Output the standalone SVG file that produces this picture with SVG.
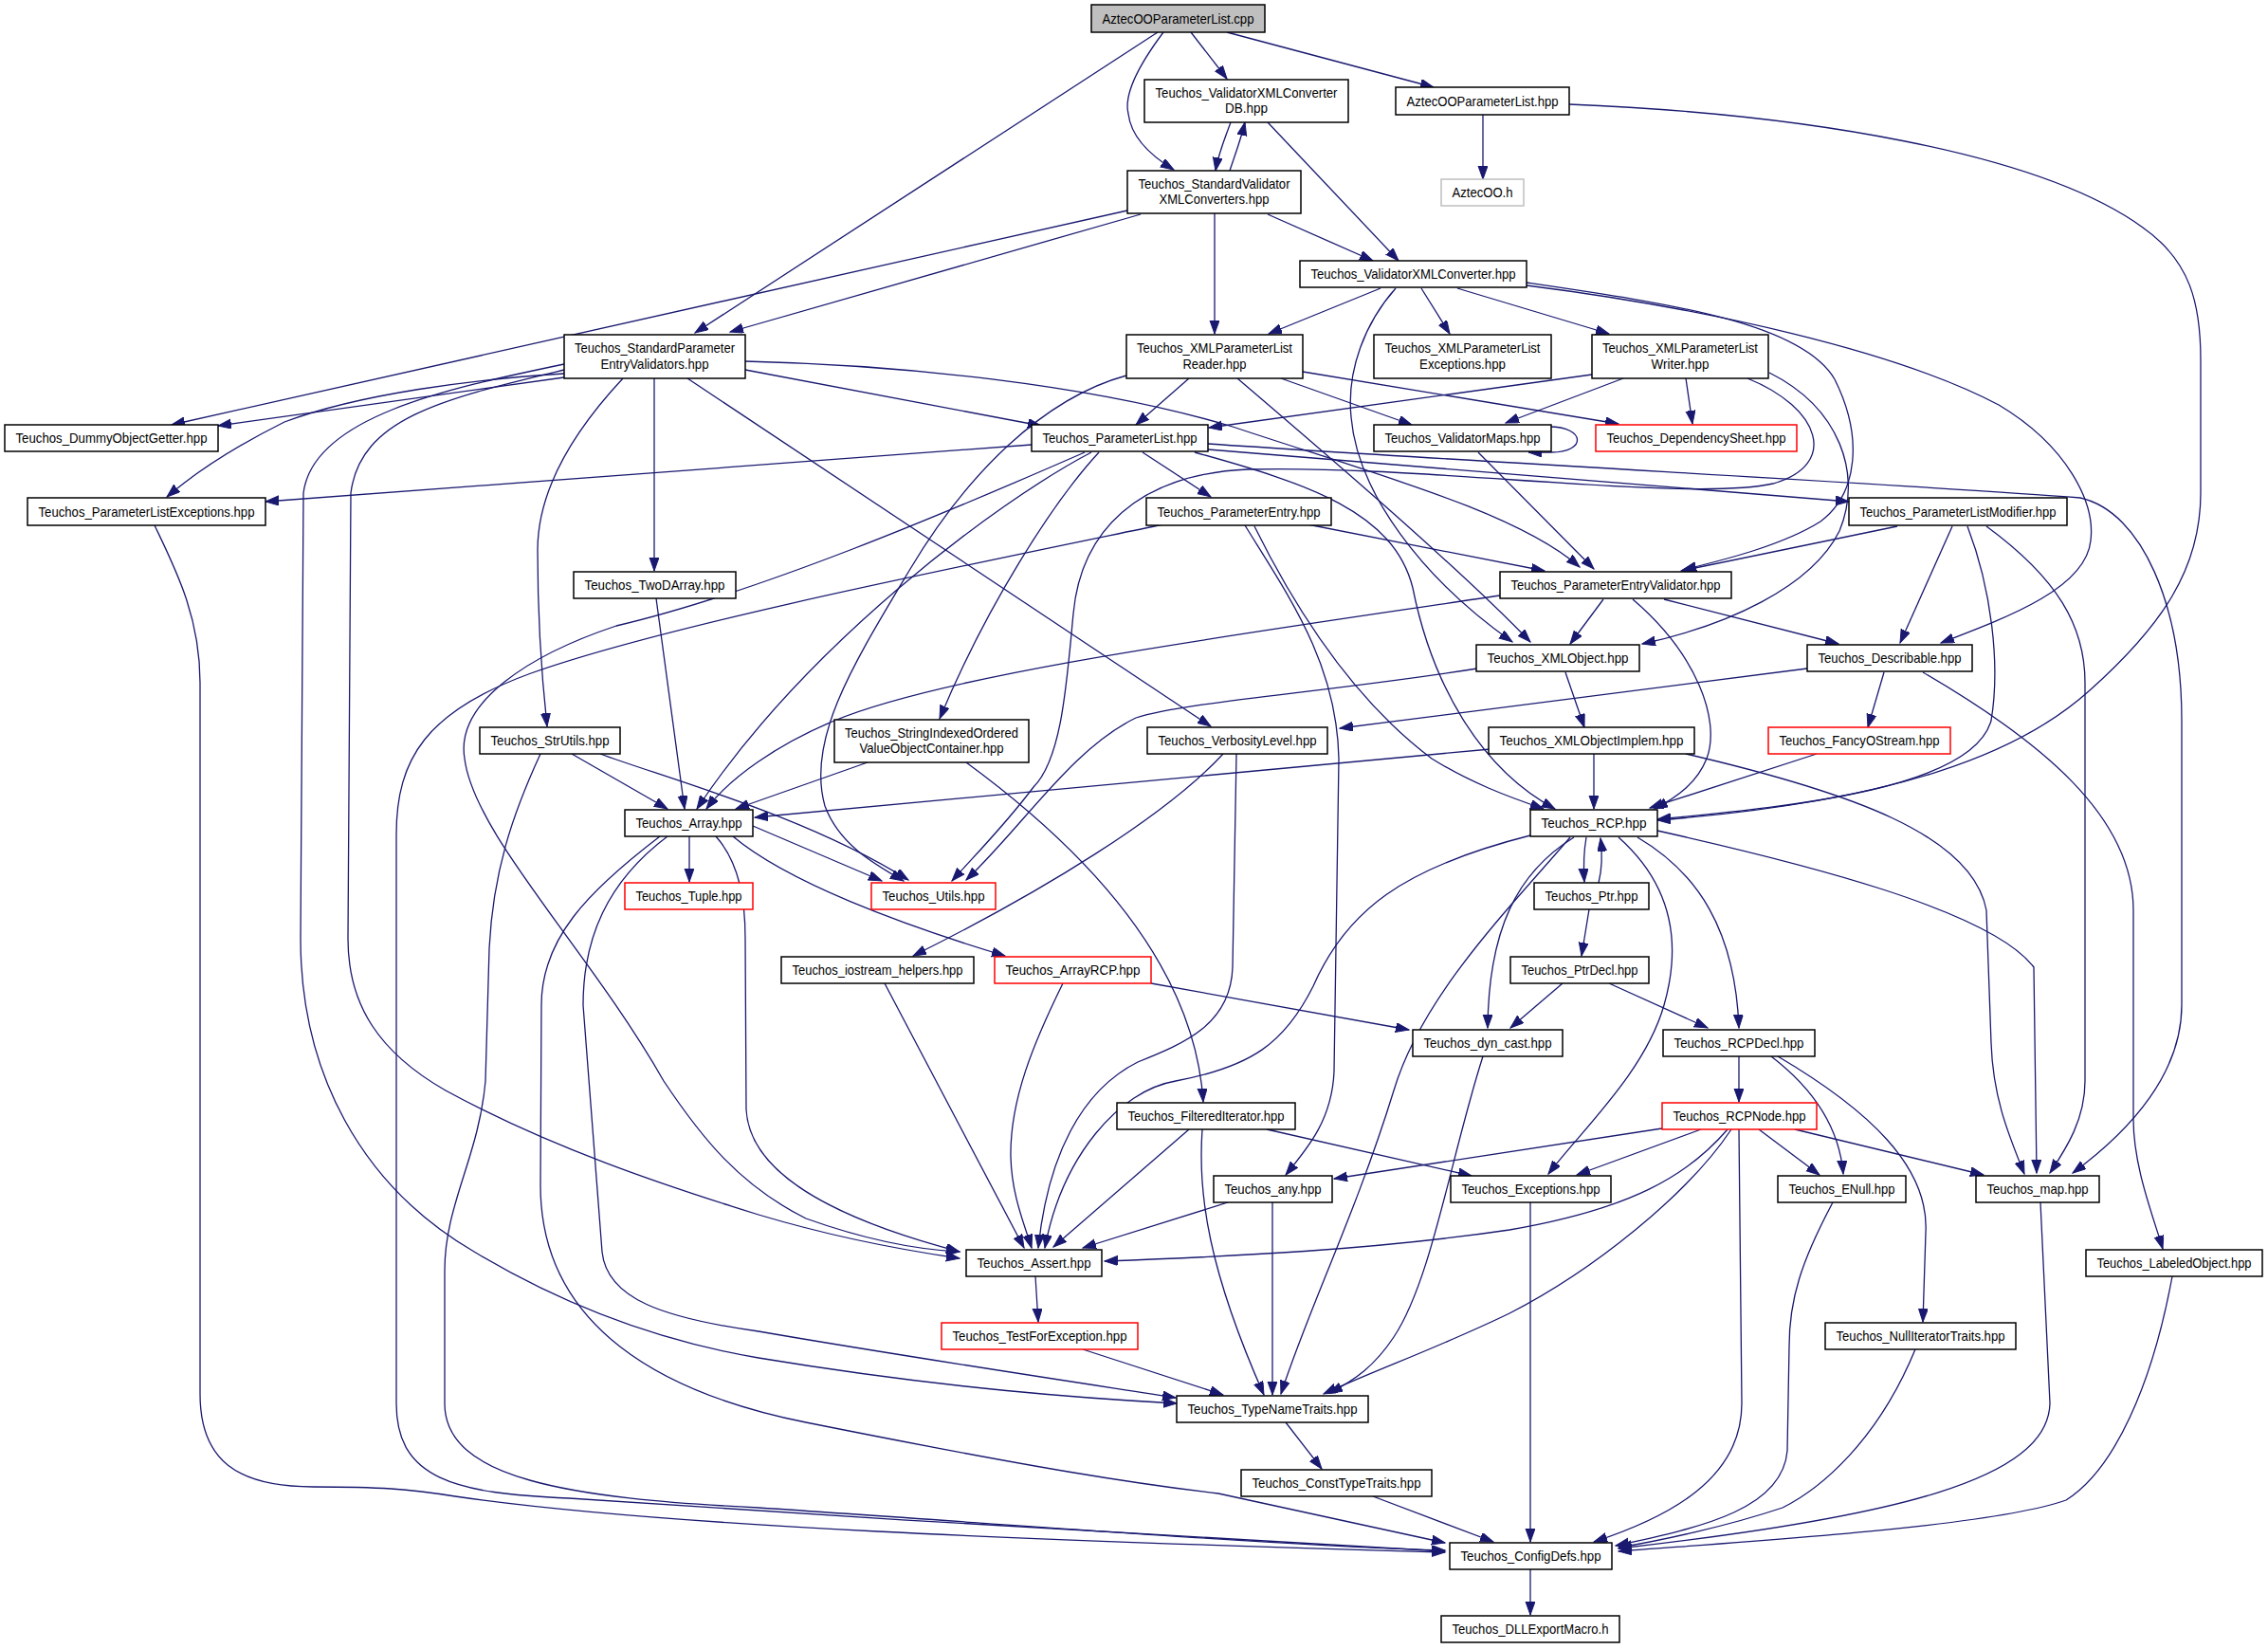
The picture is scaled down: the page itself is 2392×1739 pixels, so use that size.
<svg xmlns="http://www.w3.org/2000/svg" width="2392" height="1739" viewBox="0 0 2392 1739">
<style>
.n rect{fill:#fff;stroke:#000;stroke-width:1.5}
.n.g rect{fill:#bfbfbf}
.n.r rect{stroke:#f00}
.n.l rect{stroke:#bfbfbf}
text{font-family:"Liberation Sans",Arial,Helvetica,sans-serif;font-size:15px;text-anchor:middle;fill:#000}
#edges path{fill:none;stroke:#191970;stroke-width:1.3;marker-end:url(#a)}
</style>
<defs>
<marker id="a" markerUnits="userSpaceOnUse" markerWidth="16" markerHeight="12" refX="14" refY="5" orient="auto" viewBox="0 0 16 12">
<path d="M0,0 L14,5 L0,10 z" fill="#191970" stroke="#191970" stroke-width="1"/>
</marker>
</defs>
<rect x="0" y="0" width="2392" height="1739" fill="#fff"/>
<g id="edges">
<path d="M1221,34 L733,351"/>
<path d="M1227,34 C1200,70 1185,100 1190,120 C1193,145 1215,165 1238,179"/>
<path d="M1256,34 L1294,83"/>
<path d="M1294,34 L1512,92"/>
<path d="M1298,129 C1291,148 1285,162 1282,180"/>
<path d="M1297,180 C1303,162 1309,146 1313,129"/>
<path d="M1337,129 L1475,275"/>
<path d="M1564,121 L1564,189"/>
<path d="M1655,110 C1900,120 2150,160 2260,240 C2310,275 2321,320 2321,380 L2321,520 C2321,600 2280,660 2204,728 C2130,795 2000,845 1748,865"/>
<path d="M1189,222 L181,448"/>
<path d="M1203,226 L770,350"/>
<path d="M1281,225 L1281,352"/>
<path d="M1337,226 L1448,275"/>
<path d="M1456,304 L1338,352"/>
<path d="M1499,304 L1529,352"/>
<path d="M1537,304 L1697,352"/>
<path d="M1472,304 C1440,340 1420,390 1425,440 C1432,520 1500,610 1595,677"/>
<path d="M1610,298 C1760,320 1900,340 1935,400 C1965,460 1960,520 1920,550 C1880,575 1820,590 1775,601"/>
<path d="M1610,301 C1800,325 2000,370 2108,427 C2180,470 2210,530 2205,570 C2200,620 2120,650 2047,678"/>
<path d="M595,398 L230,449"/>
<path d="M595,394 C500,400 380,415 300,445 C250,470 210,495 176,524"/>
<path d="M595,384 C470,410 330,440 320,520 L317,990 C317,1130 380,1250 500,1320 C600,1380 700,1415 800,1432 C1000,1465 1150,1475 1241,1480"/>
<path d="M595,390 C470,420 380,440 370,520 L367,990 C367,1060 400,1110 470,1150 C580,1210 700,1250 800,1281 C880,1305 950,1318 1012,1327"/>
<path d="M657,399 C600,460 567,520 567,580 C567,650 572,720 577,766"/>
<path d="M690,399 L690,602"/>
<path d="M725,399 L1277,766"/>
<path d="M786,390 L1098,449"/>
<path d="M786,381 C950,385 1150,405 1300,450 C1450,500 1600,540 1666,598"/>
<path d="M1254,399 L1198,448"/>
<path d="M1351,399 L1489,448"/>
<path d="M1374,392 L1707,447"/>
<path d="M1305,399 C1400,480 1540,600 1614,677"/>
<path d="M1188,396 C1100,420 1020,500 960,600 C900,700 850,780 870,850 C885,890 920,910 953,929"/>
<path d="M1679,395 L1275,451"/>
<path d="M1712,399 L1588,446"/>
<path d="M1778,399 L1785,447"/>
<path d="M1843,399 C1920,430 1940,490 1870,510 C1780,530 1500,490 1316,495 C1200,500 1140,560 1132,647 C1125,720 1120,800 1090,830 C1060,870 1030,900 1004,929"/>
<path d="M1866,393 C1940,430 1965,500 1940,560 C1910,620 1820,660 1732,679"/>
<path d="M1088,469 L280,529"/>
<path d="M1144,477 C1000,540 800,625 650,660 C560,690 480,740 490,800 C500,880 620,1000 700,1140 C740,1200 780,1250 850,1285 C920,1310 970,1318 1012,1320"/>
<path d="M1151,477 C1050,530 850,680 735,853"/>
<path d="M1159,477 C1110,530 1040,640 991,758"/>
<path d="M1205,477 L1277,524"/>
<path d="M1260,477 C1380,510 1470,540 1490,620 C1510,720 1560,810 1640,853"/>
<path d="M1274,468 C1600,490 2000,510 2194,525 C2260,540 2301,640 2301,760 L2301,1060 C2301,1130 2250,1190 2186,1237"/>
<path d="M1274,474 L1950,529"/>
<path d="M1379,553 L1629,602"/>
<path d="M1313,554 C1360,630 1410,700 1412,800 L1407,1130 C1405,1180 1380,1210 1356,1239"/>
<path d="M1323,555 C1370,650 1430,740 1510,800 C1550,825 1590,840 1628,853"/>
<path d="M1227,553 C1000,600 700,660 560,710 C450,750 418,800 418,880 L418,1480 C418,1560 480,1575 600,1580 C900,1600 1300,1625 1524,1636"/>
<path d="M692,631 L722,853"/>
<path d="M1691,632 L1656,679"/>
<path d="M1755,632 L1939,679"/>
<path d="M1722,632 C1790,690 1815,760 1800,800 C1790,825 1770,840 1745,853"/>
<path d="M1582,628 C1300,670 1000,710 880,760 C820,785 770,820 745,853"/>
<path d="M1651,709 L1671,767"/>
<path d="M1558,705 C1400,730 1250,740 1198,757 C1130,790 1080,870 1019,928"/>
<path d="M1987,709 L1970,767"/>
<path d="M1906,705 L1413,768"/>
<path d="M2028,709 C2150,780 2250,860 2250,960 L2250,1180 C2250,1230 2270,1280 2281,1317"/>
<path d="M2001,555 L1773,602"/>
<path d="M2059,555 L2004,678"/>
<path d="M2075,555 C2100,620 2110,700 2100,760 C2080,830 1900,850 1748,864"/>
<path d="M2095,555 C2170,610 2199,660 2199,720 L2199,1140 C2199,1180 2180,1210 2162,1237"/>
<path d="M1634,450 C1672,450 1674,477 1636,477 L1612,477"/>
<path d="M1559,477 L1681,600"/>
<path d="M915,804 L776,853"/>
<path d="M1019,804 C1150,900 1260,1020 1269,1162"/>
<path d="M1290,795 C1230,860 1100,940 963,1008"/>
<path d="M1304,795 L1300,1020 C1298,1080 1250,1100 1200,1120 C1140,1150 1105,1220 1095,1316"/>
<path d="M727,882 L727,930"/>
<path d="M794,871 L930,929"/>
<path d="M773,882 C830,930 950,975 1060,1008"/>
<path d="M755,882 C780,910 786,950 786,990 L787,1170 C790,1230 860,1280 1012,1320"/>
<path d="M704,882 C640,930 615,990 615,1060 L635,1320 C640,1370 700,1390 800,1404 C950,1430 1150,1460 1240,1474"/>
<path d="M696,882 C620,940 571,990 571,1060 L570,1250 C570,1400 700,1470 850,1500 C1100,1550 1200,1565 1285,1575 L1524,1627"/>
<path d="M603,795 L704,853"/>
<path d="M633,795 C700,820 850,860 958,928"/>
<path d="M570,795 C540,860 520,920 516,1000 L512,1140 C505,1220 469,1270 469,1340 L469,1480 C469,1560 600,1580 800,1590 C1100,1610 1350,1630 1524,1635"/>
<path d="M1572,790 L796,862"/>
<path d="M1681,795 L1681,853"/>
<path d="M1778,795 C1950,835 2080,880 2095,960 L2100,1100 C2102,1160 2120,1200 2135,1238"/>
<path d="M1748,876 C1900,910 2100,960 2145,1020 L2148,1237"/>
<path d="M1916,795 L1740,852"/>
<path d="M1673,883 C1670,900 1670,915 1671,930"/>
<path d="M1686,931 C1690,915 1690,900 1688,884"/>
<path d="M1707,883 C1760,930 1775,990 1755,1060 C1735,1130 1670,1190 1633,1238"/>
<path d="M1727,883 C1790,920 1830,980 1834,1084"/>
<path d="M1614,881 C1480,915 1420,960 1385,1040 C1355,1100 1320,1125 1240,1140 C1180,1150 1120,1220 1102,1316"/>
<path d="M1656,883 C1590,960 1500,1050 1470,1150 C1430,1280 1380,1380 1351,1470"/>
<path d="M1660,883 C1600,920 1570,980 1569,1084"/>
<path d="M1648,1037 L1593,1084"/>
<path d="M1697,1037 L1801,1084"/>
<path d="M1676,959 L1668,1008"/>
<path d="M1121,1037 C1090,1100 1065,1160 1066,1220 C1067,1260 1080,1290 1088,1316"/>
<path d="M933,1037 L1080,1316"/>
<path d="M1214,1037 L1486,1086"/>
<path d="M1564,1114 C1530,1220 1510,1350 1470,1410 C1450,1440 1430,1455 1402,1469"/>
<path d="M1834,1114 L1834,1162"/>
<path d="M1868,1114 C1915,1150 1940,1190 1944,1238"/>
<path d="M1875,1114 C1970,1170 2035,1230 2031,1300 L2028,1394"/>
<path d="M1753,1190 L1407,1243"/>
<path d="M1794,1191 L1663,1239"/>
<path d="M1855,1191 L1919,1239"/>
<path d="M1893,1191 L2092,1239"/>
<path d="M1822,1191 C1780,1240 1720,1275 1592,1297 C1450,1318 1300,1325 1165,1330"/>
<path d="M1826,1191 C1780,1260 1680,1340 1592,1385 C1520,1420 1450,1445 1396,1470"/>
<path d="M1834,1191 L1837,1480 C1837,1560 1760,1600 1681,1626"/>
<path d="M1336,1191 L1552,1240"/>
<path d="M1254,1191 L1111,1315"/>
<path d="M1268,1191 C1263,1260 1275,1340 1333,1471"/>
<path d="M1295,1268 L1142,1316"/>
<path d="M1342,1268 L1342,1471"/>
<path d="M1614,1268 L1614,1626"/>
<path d="M1933,1268 C1900,1330 1887,1370 1887,1420 L1885,1530 C1880,1590 1800,1610 1704,1630"/>
<path d="M2152,1268 L2162,1480 C2160,1560 2000,1600 1707,1633"/>
<path d="M2291,1346 C2270,1460 2230,1550 2179,1582 C2100,1610 1850,1625 1707,1636"/>
<path d="M2020,1423 C1980,1520 1920,1570 1880,1590 C1820,1610 1750,1625 1707,1632"/>
<path d="M1092,1346 L1095,1394"/>
<path d="M1142,1423 L1290,1471"/>
<path d="M1356,1500 L1394,1549"/>
<path d="M1448,1578 L1575,1626"/>
<path d="M1614,1655 L1614,1703"/>
<path d="M163,554 C185,600 211,650 211,720 L211,1470 C211,1540 250,1568 330,1568 C400,1568 430,1570 480,1578 C700,1610 1100,1625 1524,1637"/>
</g>
<g id="node-AztecOOParameterList_cpp" class="n g"><rect x="1151" y="5" width="183" height="29"/><text x="1242.5" y="24.5" textLength="160" lengthAdjust="spacingAndGlyphs">AztecOOParameterList.cpp</text></g>
<g id="node-ValidatorXMLConverterDB" class="n"><rect x="1207" y="84" width="215" height="45"/><text x="1314.5" y="102.5" textLength="192" lengthAdjust="spacingAndGlyphs">Teuchos_ValidatorXMLConverter</text><text x="1314.5" y="119" textLength="45" lengthAdjust="spacingAndGlyphs">DB.hpp</text></g>
<g id="node-AztecOOParameterList_hpp" class="n"><rect x="1472" y="92" width="183" height="29"/><text x="1563.5" y="111.5" textLength="160" lengthAdjust="spacingAndGlyphs">AztecOOParameterList.hpp</text></g>
<g id="node-StandardValidatorXMLConverters" class="n"><rect x="1189" y="180" width="183" height="45"/><text x="1280.5" y="198.5" textLength="160" lengthAdjust="spacingAndGlyphs">Teuchos_StandardValidator</text><text x="1280.5" y="215" textLength="116" lengthAdjust="spacingAndGlyphs">XMLConverters.hpp</text></g>
<g id="node-AztecOO_h" class="n l"><rect x="1520" y="189" width="87" height="28"/><text x="1563.5" y="208" textLength="64" lengthAdjust="spacingAndGlyphs">AztecOO.h</text></g>
<g id="node-ValidatorXMLConverter" class="n"><rect x="1371" y="275" width="239" height="28"/><text x="1490.5" y="294" textLength="216" lengthAdjust="spacingAndGlyphs">Teuchos_ValidatorXMLConverter.hpp</text></g>
<g id="node-StandardParameterEntryValidators" class="n"><rect x="595" y="353" width="191" height="46"/><text x="690.5" y="372" textLength="169" lengthAdjust="spacingAndGlyphs">Teuchos_StandardParameter</text><text x="690.5" y="388.5" textLength="114" lengthAdjust="spacingAndGlyphs">EntryValidators.hpp</text></g>
<g id="node-XMLParameterListReader" class="n"><rect x="1188" y="353" width="186" height="46"/><text x="1281" y="372" textLength="164" lengthAdjust="spacingAndGlyphs">Teuchos_XMLParameterList</text><text x="1281" y="388.5" textLength="67" lengthAdjust="spacingAndGlyphs">Reader.hpp</text></g>
<g id="node-XMLParameterListExceptions" class="n"><rect x="1449" y="353" width="187" height="46"/><text x="1542.5" y="372" textLength="164" lengthAdjust="spacingAndGlyphs">Teuchos_XMLParameterList</text><text x="1542.5" y="388.5" textLength="91" lengthAdjust="spacingAndGlyphs">Exceptions.hpp</text></g>
<g id="node-XMLParameterListWriter" class="n"><rect x="1679" y="353" width="186" height="46"/><text x="1772" y="372" textLength="164" lengthAdjust="spacingAndGlyphs">Teuchos_XMLParameterList</text><text x="1772" y="388.5" textLength="61" lengthAdjust="spacingAndGlyphs">Writer.hpp</text></g>
<g id="node-DummyObjectGetter" class="n"><rect x="5" y="448" width="225" height="28"/><text x="117.5" y="467" textLength="202" lengthAdjust="spacingAndGlyphs">Teuchos_DummyObjectGetter.hpp</text></g>
<g id="node-ParameterList" class="n"><rect x="1088" y="448" width="186" height="28"/><text x="1181" y="467" textLength="163" lengthAdjust="spacingAndGlyphs">Teuchos_ParameterList.hpp</text></g>
<g id="node-ValidatorMaps" class="n"><rect x="1449" y="448" width="187" height="28"/><text x="1542.5" y="467" textLength="164" lengthAdjust="spacingAndGlyphs">Teuchos_ValidatorMaps.hpp</text></g>
<g id="node-DependencySheet" class="n r"><rect x="1683" y="448" width="212" height="28"/><text x="1789" y="467" textLength="189" lengthAdjust="spacingAndGlyphs">Teuchos_DependencySheet.hpp</text></g>
<g id="node-ParameterListExceptions" class="n"><rect x="29" y="525" width="251" height="29"/><text x="154.5" y="544.5" textLength="228" lengthAdjust="spacingAndGlyphs">Teuchos_ParameterListExceptions.hpp</text></g>
<g id="node-ParameterEntry" class="n"><rect x="1209" y="525" width="195" height="29"/><text x="1306.5" y="544.5" textLength="172" lengthAdjust="spacingAndGlyphs">Teuchos_ParameterEntry.hpp</text></g>
<g id="node-ParameterListModifier" class="n"><rect x="1950" y="525" width="230" height="29"/><text x="2065" y="544.5" textLength="207" lengthAdjust="spacingAndGlyphs">Teuchos_ParameterListModifier.hpp</text></g>
<g id="node-TwoDArray" class="n"><rect x="605" y="603" width="171" height="28"/><text x="690.5" y="622" textLength="148" lengthAdjust="spacingAndGlyphs">Teuchos_TwoDArray.hpp</text></g>
<g id="node-ParameterEntryValidator" class="n"><rect x="1582" y="603" width="244" height="28"/><text x="1704" y="622" textLength="221" lengthAdjust="spacingAndGlyphs">Teuchos_ParameterEntryValidator.hpp</text></g>
<g id="node-XMLObject" class="n"><rect x="1557" y="680" width="172" height="28"/><text x="1643" y="699" textLength="149" lengthAdjust="spacingAndGlyphs">Teuchos_XMLObject.hpp</text></g>
<g id="node-Describable" class="n"><rect x="1906" y="680" width="174" height="28"/><text x="1993" y="699" textLength="151" lengthAdjust="spacingAndGlyphs">Teuchos_Describable.hpp</text></g>
<g id="node-StrUtils" class="n"><rect x="506" y="767" width="148" height="28"/><text x="580" y="786" textLength="125" lengthAdjust="spacingAndGlyphs">Teuchos_StrUtils.hpp</text></g>
<g id="node-StringIndexedOrderedValueObjectContainer" class="n"><rect x="880" y="759" width="205" height="45"/><text x="982.5" y="777.5" textLength="183" lengthAdjust="spacingAndGlyphs">Teuchos_StringIndexedOrdered</text><text x="982.5" y="794" textLength="152" lengthAdjust="spacingAndGlyphs">ValueObjectContainer.hpp</text></g>
<g id="node-VerbosityLevel" class="n"><rect x="1210" y="767" width="190" height="28"/><text x="1305" y="786" textLength="167" lengthAdjust="spacingAndGlyphs">Teuchos_VerbosityLevel.hpp</text></g>
<g id="node-XMLObjectImplem" class="n"><rect x="1570" y="767" width="217" height="28"/><text x="1678.5" y="786" textLength="194" lengthAdjust="spacingAndGlyphs">Teuchos_XMLObjectImplem.hpp</text></g>
<g id="node-FancyOStream" class="n r"><rect x="1865" y="767" width="192" height="28"/><text x="1961" y="786" textLength="169" lengthAdjust="spacingAndGlyphs">Teuchos_FancyOStream.hpp</text></g>
<g id="node-Array" class="n"><rect x="659" y="854" width="135" height="28"/><text x="726.5" y="873" textLength="112" lengthAdjust="spacingAndGlyphs">Teuchos_Array.hpp</text></g>
<g id="node-RCP" class="n"><rect x="1614" y="854" width="134" height="28"/><text x="1681" y="873" textLength="111" lengthAdjust="spacingAndGlyphs">Teuchos_RCP.hpp</text></g>
<g id="node-Tuple" class="n r"><rect x="659" y="931" width="135" height="28"/><text x="726.5" y="950" textLength="112" lengthAdjust="spacingAndGlyphs">Teuchos_Tuple.hpp</text></g>
<g id="node-Utils" class="n r"><rect x="919" y="931" width="131" height="28"/><text x="984.5" y="950" textLength="108" lengthAdjust="spacingAndGlyphs">Teuchos_Utils.hpp</text></g>
<g id="node-Ptr" class="n"><rect x="1618" y="931" width="121" height="28"/><text x="1678.5" y="950" textLength="98" lengthAdjust="spacingAndGlyphs">Teuchos_Ptr.hpp</text></g>
<g id="node-iostream_helpers" class="n"><rect x="824" y="1009" width="203" height="28"/><text x="925.5" y="1028" textLength="180" lengthAdjust="spacingAndGlyphs">Teuchos_iostream_helpers.hpp</text></g>
<g id="node-ArrayRCP" class="n r"><rect x="1049" y="1009" width="165" height="28"/><text x="1131.5" y="1028" textLength="142" lengthAdjust="spacingAndGlyphs">Teuchos_ArrayRCP.hpp</text></g>
<g id="node-PtrDecl" class="n"><rect x="1593" y="1009" width="146" height="28"/><text x="1666" y="1028" textLength="123" lengthAdjust="spacingAndGlyphs">Teuchos_PtrDecl.hpp</text></g>
<g id="node-dyn_cast" class="n"><rect x="1490" y="1086" width="158" height="28"/><text x="1569" y="1105" textLength="135" lengthAdjust="spacingAndGlyphs">Teuchos_dyn_cast.hpp</text></g>
<g id="node-RCPDecl" class="n"><rect x="1754" y="1086" width="160" height="28"/><text x="1834" y="1105" textLength="137" lengthAdjust="spacingAndGlyphs">Teuchos_RCPDecl.hpp</text></g>
<g id="node-FilteredIterator" class="n"><rect x="1178" y="1163" width="188" height="28"/><text x="1272" y="1182" textLength="165" lengthAdjust="spacingAndGlyphs">Teuchos_FilteredIterator.hpp</text></g>
<g id="node-RCPNode" class="n r"><rect x="1753" y="1163" width="163" height="28"/><text x="1834.5" y="1182" textLength="140" lengthAdjust="spacingAndGlyphs">Teuchos_RCPNode.hpp</text></g>
<g id="node-any" class="n"><rect x="1280" y="1240" width="125" height="28"/><text x="1342.5" y="1259" textLength="102" lengthAdjust="spacingAndGlyphs">Teuchos_any.hpp</text></g>
<g id="node-Exceptions" class="n"><rect x="1530" y="1240" width="169" height="28"/><text x="1614.5" y="1259" textLength="146" lengthAdjust="spacingAndGlyphs">Teuchos_Exceptions.hpp</text></g>
<g id="node-ENull" class="n"><rect x="1875" y="1240" width="135" height="28"/><text x="1942.5" y="1259" textLength="112" lengthAdjust="spacingAndGlyphs">Teuchos_ENull.hpp</text></g>
<g id="node-map" class="n"><rect x="2084" y="1240" width="130" height="28"/><text x="2149" y="1259" textLength="107" lengthAdjust="spacingAndGlyphs">Teuchos_map.hpp</text></g>
<g id="node-Assert" class="n"><rect x="1019" y="1318" width="143" height="28"/><text x="1090.5" y="1337" textLength="120" lengthAdjust="spacingAndGlyphs">Teuchos_Assert.hpp</text></g>
<g id="node-LabeledObject" class="n"><rect x="2200" y="1318" width="186" height="28"/><text x="2293" y="1337" style="font-size:14px" textLength="163" lengthAdjust="spacingAndGlyphs">Teuchos_LabeledObject.hpp</text></g>
<g id="node-TestForException" class="n r"><rect x="993" y="1395" width="207" height="28"/><text x="1096.5" y="1414" textLength="184" lengthAdjust="spacingAndGlyphs">Teuchos_TestForException.hpp</text></g>
<g id="node-NullIteratorTraits" class="n"><rect x="1925" y="1395" width="201" height="28"/><text x="2025.5" y="1414" textLength="178" lengthAdjust="spacingAndGlyphs">Teuchos_NullIteratorTraits.hpp</text></g>
<g id="node-TypeNameTraits" class="n"><rect x="1241" y="1472" width="202" height="28"/><text x="1342" y="1491" textLength="179" lengthAdjust="spacingAndGlyphs">Teuchos_TypeNameTraits.hpp</text></g>
<g id="node-ConstTypeTraits" class="n"><rect x="1309" y="1550" width="201" height="28"/><text x="1409.5" y="1569" textLength="178" lengthAdjust="spacingAndGlyphs">Teuchos_ConstTypeTraits.hpp</text></g>
<g id="node-ConfigDefs" class="n"><rect x="1529" y="1627" width="171" height="28"/><text x="1614.5" y="1646" textLength="148" lengthAdjust="spacingAndGlyphs">Teuchos_ConfigDefs.hpp</text></g>
<g id="node-DLLExportMacro" class="n"><rect x="1520" y="1704" width="188" height="28"/><text x="1614" y="1723" textLength="165" lengthAdjust="spacingAndGlyphs">Teuchos_DLLExportMacro.h</text></g>
</svg>
